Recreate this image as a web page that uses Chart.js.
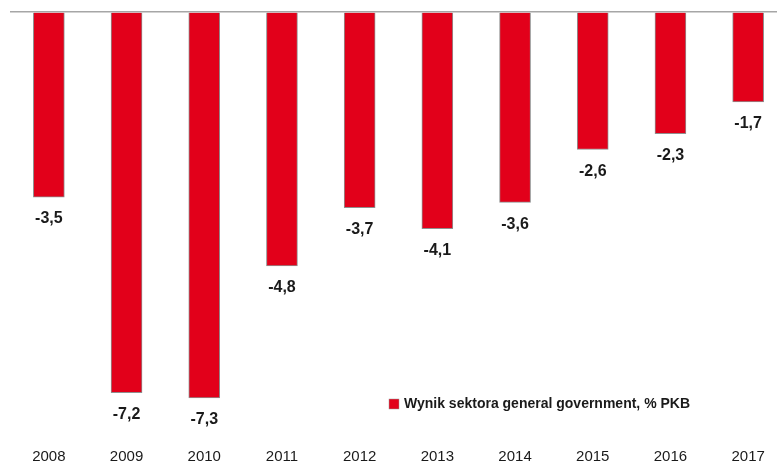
<!DOCTYPE html>
<html>
<head>
<meta charset="utf-8">
<script src="https://cdn.jsdelivr.net/npm/chart.js@4/dist/chart.umd.min.js"></script>
<style>
  html, body { margin: 0; padding: 0; background: #fff; overflow: hidden; }
  #wrap { width: 787px; height: 463px; }
</style>
</head>
<body>
<div id="wrap"><canvas id="myChart" width="787" height="463"></canvas></div>
<script>
// Data --------------------------------------------
const years = ["2008", "2009", "2010", "2011", "2012", "2013", "2014", "2015", "2016", "2017"];
const balance = [-3.5, -7.2, -7.3, -4.8, -3.7, -4.1, -3.6, -2.6, -2.3, -1.7];
const seriesName = "Wynik sektora general government, % PKB";

const RED = '#e2001a';

// value labels under each bar
const valueLabels = {
	id: 'valueLabels',
	afterDatasetsDraw(chart) {
		const ctx = chart.ctx;
		const meta = chart.getDatasetMeta(0);
		ctx.save();
		ctx.font = 'bold 16px "Liberation Sans", Arial, sans-serif';
		ctx.fillStyle = '#1a1a1a';
		ctx.textAlign = 'center';
		ctx.textBaseline = 'middle';
		meta.data.forEach((bar, i) => {
			ctx.fillText(balance[i].toFixed(1).replace('.', ','), bar.x, bar.y + 22);
		});
		ctx.restore();
	}
};

// legend sitting inside the plot, lower right
const innerLegend = {
	id: 'innerLegend',
	afterDraw(chart) {
		const ctx = chart.ctx;
		ctx.save();
		ctx.fillStyle = RED;
		ctx.fillRect(389, 399, 10, 10);
		ctx.strokeStyle = '#9a9a9a';
		ctx.lineWidth = 0.5;
		ctx.strokeRect(389, 399, 10, 10);
		ctx.font = 'bold 14px "Liberation Sans", Arial, sans-serif';
		ctx.fillStyle = '#1a1a1a';
		ctx.textBaseline = 'middle';
		ctx.fillText(seriesName, 404, 404);
		ctx.restore();
	}
};

let ctx = document.getElementById('myChart').getContext('2d');
let chart = new Chart(ctx, {
	type: 'bar',
	data: {
		labels: years,
		datasets: [{
			label: seriesName,
			data: balance,
			backgroundColor: RED,
			borderColor: '#8f8f8f',
			borderWidth: 1,
			barThickness: 31
		}]
	},
	options: {
		responsive: false,
		animation: false,
		layout: {
			padding: { left: 10, right: 0, top: 12, bottom: 0 }
		},
		plugins: {
			legend: { display: false },
			tooltip: { enabled: false }
		},
		scales: {
			x: {
				grid: { display: false },
				border: { display: false },
				afterFit: (scale) => { scale.height = 28; },
				ticks: {
					padding: 5,
					color: '#1a1a1a',
					font: { family: '"Liberation Sans", Arial, sans-serif', size: 15 }
				}
			},
			y: {
				min: -8,
				max: 0,
				ticks: { display: false, stepSize: 1 },
				border: { display: false },
				grid: {
					drawTicks: false,
					color: (c) => c.tick && c.tick.value === 0 ? '#a6a6a6' : 'transparent',
					lineWidth: 1.5
				}
			}
		}
	},
	plugins: [valueLabels, innerLegend]
});
</script>
</body>
</html>
